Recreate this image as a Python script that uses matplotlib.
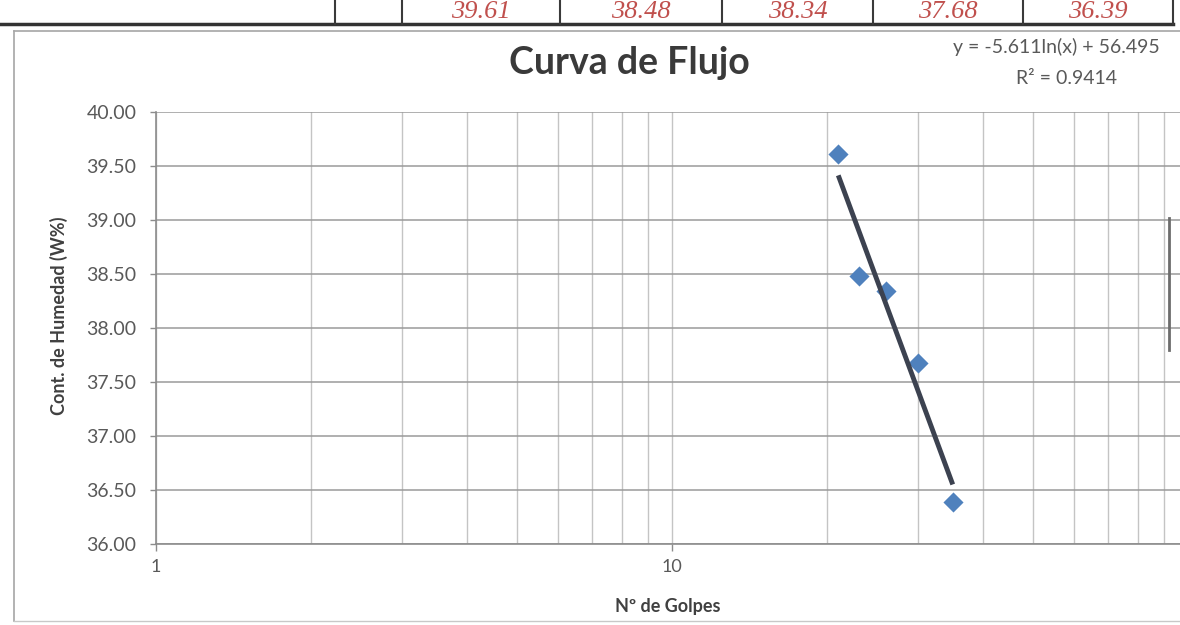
import numpy as np
import matplotlib
matplotlib.use('Agg')
import matplotlib.pyplot as plt
from matplotlib.lines import Line2D
from matplotlib.ticker import FixedLocator, LogLocator, NullFormatter, FixedFormatter

# Flow curve (Casagrande): blows vs moisture content
golpes = [21, 23, 26, 30, 35]
humedad = [39.61, 38.48, 38.34, 37.68, 36.39]

y_ticks = [36.0, 36.5, 37.0, 37.5, 38.0, 38.5, 39.0, 39.5, 40.0]
x_ticks = [1, 10]
x_tick_labels = ['1', '10']

titulo = 'Curva de Flujo'
x_label = 'Nº de Golpes'
y_label = 'Cont. de Humedad (W%)'
eq_text = 'y = -5.611ln(x) + 56.495'
r2_text = 'R² = 0.9414'

W, H = 1180, 625
FONT = ['Lato', 'DejaVu Sans']
GRAY_TXT = '#595959'
DARK_TXT = '#404040'

plt.rcParams['font.family'] = FONT


def px(x, y):
    # pixel position (from top-left) -> figure fraction
    return x / W, 1 - y / H


def fig_line(fig, x0, y0, x1, y1, **kw):
    a, b = px(x0, y0)
    c, d = px(x1, y1)
    fig.add_artist(Line2D([a, c], [b, d], transform=fig.transFigure, **kw))


fig = plt.figure(figsize=(W / 100, H / 100), dpi=100)

# ---- table row at the top of the scan ----
cell_edges = [335, 402, 560, 722, 873, 1023, 1173]
row_bottom = 24
fig_line(fig, 0, row_bottom, 1173, row_bottom, color='#333333', lw=2.5)
for xe in cell_edges:
    fig_line(fig, xe, 0, xe, row_bottom, color='#3a3a3a', lw=1.5)
for i, val in enumerate(humedad):
    xc = (cell_edges[i + 1] + cell_edges[i + 2]) / 2
    fig.text(*px(xc, 12), f'{val:.2f}', ha='center', va='center',
             fontsize=19, style='italic', family='Liberation Serif',
             color='#c0504d')

# ---- chart area border ----
fig_line(fig, 14, 31, 1180, 31, color='#a6a6a6', lw=1.2)
fig_line(fig, 14, 31, 14, 621, color='#a6a6a6', lw=1.2)
fig_line(fig, 14, 621, 1180, 621, color='#c8c8c8', lw=1.0)
# stray cell border on the right edge of the sheet
fig_line(fig, 1169, 218, 1169, 350, color='#6d6d6d', lw=2)

# ---- plot area ----
left, right, top, bottom = 156, 1188, 112, 544
ax = fig.add_axes([left / W, (H - bottom) / H, (right - left) / W, (bottom - top) / H])

ax.scatter(golpes, humedad, marker='D', s=105, color='#4f81bd', zorder=3,
           linewidths=0)

# logarithmic trendline over the data range
coef = np.polyfit(np.log(golpes), humedad, 1)
xs = np.geomspace(min(golpes), max(golpes), 50)
ax.plot(xs, coef[0] * np.log(xs) + coef[1], color='#3c4250', lw=3.5,
        solid_capstyle='butt', zorder=4)

ax.set_xscale('log')
ax.set_xlim(1, 100)
ax.set_ylim(36, 40)

ax.xaxis.set_major_locator(FixedLocator(x_ticks))
ax.xaxis.set_major_formatter(FixedFormatter(x_tick_labels))
ax.xaxis.set_minor_locator(LogLocator(base=10, subs=np.arange(2, 10)))
ax.xaxis.set_minor_formatter(NullFormatter())
ax.set_yticks(y_ticks)
ax.set_yticklabels([f'{v:.2f}' for v in y_ticks])

ax.grid(True, axis='y', which='major', color='#9a9a9a', lw=1.1)
ax.grid(True, axis='x', which='both', color='#c4c4c4', lw=1.0)
ax.set_axisbelow(True)

for s in ['top', 'right']:
    ax.spines[s].set_visible(False)
for s in ['left', 'bottom']:
    ax.spines[s].set_color('#8c8c8c')
    ax.spines[s].set_linewidth(1.2)

ax.tick_params(axis='y', which='major', length=4, width=1, color='#8c8c8c',
               pad=10, labelsize=14, labelcolor=GRAY_TXT)
ax.tick_params(axis='x', which='major', length=5, width=1, color='#8c8c8c',
               pad=6, labelsize=13, labelcolor=GRAY_TXT)
ax.tick_params(axis='x', which='minor', length=0)

ax.set_xlabel(x_label, fontsize=13, fontweight='bold', color=DARK_TXT)
ax.set_ylabel(y_label, fontsize=13, fontweight='bold', color=DARK_TXT)
ax.xaxis.set_label_coords((668 - left) / (right - left), -(598 - bottom) / (bottom - top))
ax.yaxis.set_label_coords((68 - left) / (right - left), (bottom - 316) / (bottom - top))

# title and trendline label
fig.text(*px(629, 74), titulo, ha='center', va='baseline', fontsize=27,
         fontweight='bold', color='#3a3a3a')
fig.text(*px(953, 47), eq_text, ha='left', va='center', fontsize=14, color=GRAY_TXT)
fig.text(*px(1067, 78), r2_text, ha='center', va='center', fontsize=14, color=GRAY_TXT)

fig.savefig('out.png', dpi=100)
